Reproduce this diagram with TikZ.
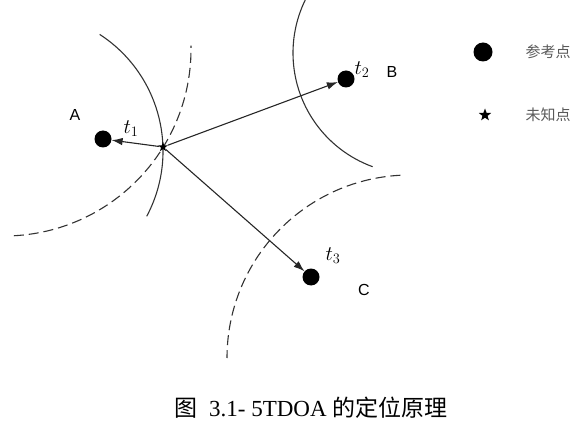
\documentclass[tikz,border=0pt]{standalone}
\usepackage{fontspec}
\newfontfamily\cjk{Noto Sans CJK SC}
\newfontfamily\lblfont{Liberation Sans}
\newfontfamily\capfont{Liberation Serif}
\usetikzlibrary{shapes.geometric,arrows.meta,positioning}

\begin{document}
\begin{tikzpicture}[x=1pt, y=1pt,
			refpt/.style={circle, fill=black, minimum size=17pt, inner sep=0pt},
			unkpt/.style={star, star points=5, star point ratio=2.4, fill=black, minimum size=10pt, inner sep=0pt},
			curve/.style={draw=black!80, line width=1.1pt},
			dcurve/.style={curve, dash pattern=on 10pt off 5pt},
			arr/.style={draw=black!85, line width=1.1pt, -{Latex[length=11pt, width=7.5pt]}},
			lbl/.style={font=\lblfont\fontsize{16}{16}\selectfont},
			tlbl/.style={font=\fontsize{20}{20}\selectfont},
			legtxt/.style={font=\cjk\fontsize{15}{15}\selectfont, text=black!65}
		]
		\useasboundingbox (0,0) rectangle (588,434);

		% Curves
		\draw[curve] (24,283) ++(57:139pt) arc[start angle=57, end angle=-28, radius=139pt];
		\draw[dcurve] (4,385) ++(-87:187pt) arc[start angle=-87, end angle=1, radius=187pt];
		\draw[curve] (414,381) ++(154:121pt) arc[start angle=154, end angle=250, radius=121pt];
		\draw[dcurve] (410,76) ++(93:183pt) arc[start angle=93, end angle=180, radius=183pt];

		% Points
		\node[unkpt] (u) at (163,287) {};
		\node[refpt] (a) at (103,295) {};
		\node[refpt] (b) at (346,355) {};
		\node[refpt] (c) at (311,157) {};

		\node[lbl] (alab) at (75,319) {A};
		\node[lbl] (blab) at (392,362) {B};
		\node[lbl] (clab) at (364,144) {C};
		\node[tlbl] (t1) at (131,305) {$t_1$};
		\node[tlbl] (t2) at (362,364) {$t_2$};
		\node[tlbl] (t3) at (333,178) {$t_3$};

		% Arrows
		\draw[arr] (u) -- (a);
		\draw[arr] (u) -- (b);
		\draw[arr] (u) -- (c);

		% Legend
		\node[refpt, minimum size=19pt] (legref) at (483,382) {};
		\node[legtxt] (legreft) at (548,382) {参考点};
		\node[unkpt, minimum size=13pt] (legunk) at (485,319) {};
		\node[legtxt] (legunkt) at (548,319) {未知点};

		% Caption
		\node[font=\capfont\fontsize{23}{23}\selectfont] (cap) at (311,26) {{\cjk 图}\ \ 3.1- 5TDOA {\cjk 的定位原理}};

	\end{tikzpicture}
\end{document}
